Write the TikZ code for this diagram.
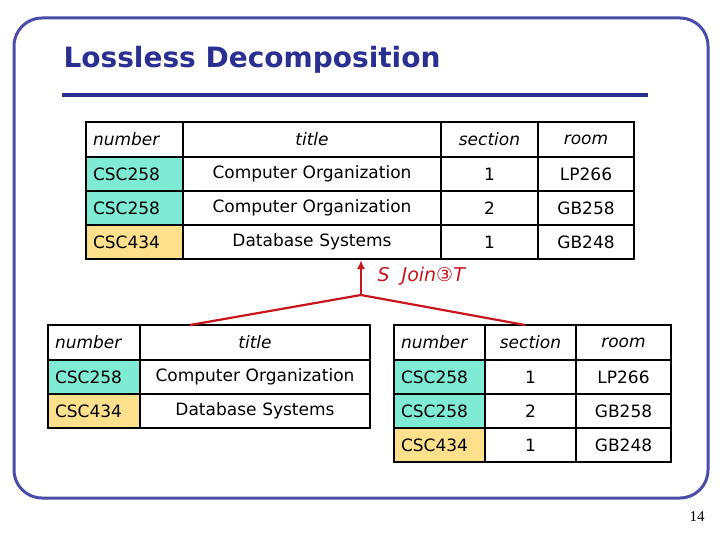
\documentclass[tikz,border=0pt]{standalone}
\usepackage{fontspec}
\usetikzlibrary{arrows.meta}
\setmainfont{DejaVu Sans}
\newfontfamily\numfont{Liberation Serif}
\definecolor{framecol}{HTML}{4B4BA8}
\definecolor{titlecol}{HTML}{2B2F91}
\definecolor{keyA}{HTML}{80EBD4}
\definecolor{keyB}{HTML}{FCE08C}
\definecolor{joincol}{HTML}{C8161E}
\tikzset{
  cell/.style={draw,line width=2pt,inner sep=3pt,font=\fontsize{17}{20}\selectfont},
  head/.style={cell,font=\fontsize{17}{20}\selectfont\itshape},
  keycell/.style={cell,align=left},
}
% \cellat{name}{x1}{y1}{x2}{y2}{style}{text}
\newcommand{\cellat}[7]{%
  \pgfmathsetmacro{\cw}{#4-#2}\pgfmathsetmacro{\ch}{#5-#3}%
  \node[#6,minimum width=\cw pt,minimum height=\ch pt,text width=\cw pt-14pt]
    (#1) at ({(#2+#4)/2},{(#3+#5)/2}) {#7};}
\begin{document}
\begin{tikzpicture}[x=1pt,y=-1pt]
  \useasboundingbox (0,0) rectangle (720,540);
  \draw[framecol,line width=3pt,rounded corners=28pt] (14,18) rectangle (708,498);
  \node[anchor=west,text=titlecol,font=\fontsize{28}{32}\selectfont\bfseries] (ttl) at (60,60) {Lossless Decomposition};
  \draw[titlecol,line width=3.5pt] (62,95) -- (648,95);
  % joined relation
  \cellat{tn}{86}{122}{183}{157}{head,align=left}{number}
  \cellat{tt}{183}{122}{441}{157}{head,align=center}{title}
  \cellat{ts}{441}{122}{538}{157}{head,align=center}{section}
  \cellat{tr}{538}{122}{634}{157}{head,align=center}{room}
  \cellat{ta1}{86}{157}{183}{191}{keycell,fill=keyA}{CSC258}
  \cellat{tb1}{183}{157}{441}{191}{cell,align=center}{Computer Organization}
  \cellat{tc1}{441}{157}{538}{191}{cell,align=center}{1}
  \cellat{td1}{538}{157}{634}{191}{cell,align=center}{LP266}
  \cellat{ta2}{86}{191}{183}{225}{keycell,fill=keyA}{CSC258}
  \cellat{tb2}{183}{191}{441}{225}{cell,align=center}{Computer Organization}
  \cellat{tc2}{441}{191}{538}{225}{cell,align=center}{2}
  \cellat{td2}{538}{191}{634}{225}{cell,align=center}{GB258}
  \cellat{ta3}{86}{225}{183}{259}{keycell,fill=keyB}{CSC434}
  \cellat{tb3}{183}{225}{441}{259}{cell,align=center}{Database Systems}
  \cellat{tc3}{441}{225}{538}{259}{cell,align=center}{1}
  \cellat{td3}{538}{225}{634}{259}{cell,align=center}{GB248}
  % relation S
  \cellat{sn}{48}{325}{140}{360}{head,align=left}{number}
  \cellat{st}{140}{325}{370}{360}{head,align=center}{title}
  \cellat{sa1}{48}{360}{140}{394}{keycell,fill=keyA}{CSC258}
  \cellat{sb1}{140}{360}{370}{394}{cell,align=center}{Computer Organization}
  \cellat{sa2}{48}{394}{140}{428}{keycell,fill=keyB}{CSC434}
  \cellat{sb2}{140}{394}{370}{428}{cell,align=center}{Database Systems}
  % relation T
  \cellat{rn}{394}{325}{485}{360}{head,align=left}{number}
  \cellat{rs}{485}{325}{576}{360}{head,align=center}{section}
  \cellat{rr}{576}{325}{671}{360}{head,align=center}{room}
  \cellat{ra1}{394}{360}{485}{394}{keycell,fill=keyA}{CSC258}
  \cellat{rb1}{485}{360}{576}{394}{cell,align=center}{1}
  \cellat{rc1}{576}{360}{671}{394}{cell,align=center}{LP266}
  \cellat{ra2}{394}{394}{485}{428}{keycell,fill=keyA}{CSC258}
  \cellat{rb2}{485}{394}{576}{428}{cell,align=center}{2}
  \cellat{rc2}{576}{394}{671}{428}{cell,align=center}{GB258}
  \cellat{ra3}{394}{428}{485}{462}{keycell,fill=keyB}{CSC434}
  \cellat{rb3}{485}{428}{576}{462}{cell,align=center}{1}
  \cellat{rc3}{576}{428}{671}{462}{cell,align=center}{GB248}
  % join
  \coordinate (jp) at (361,295);
  \coordinate (sj) at (190,325);
  \coordinate (tj) at (525,325);
  \draw[joincol,line width=2pt,-{Latex[length=9pt,width=8pt]}] (jp) -- (jp|-tc3.south west);
  \draw[joincol,line width=2.2pt] (sj) -- (jp) -- (tj);
  \node[anchor=west,text=joincol,font=\fontsize{19}{22}\selectfont\itshape] (jn) at (374,276) {S\ \ Join③T};
  \node[font=\numfont\fontsize{15}{17}\selectfont] (pg) at (697,517) {14};
\end{tikzpicture}
\end{document}
